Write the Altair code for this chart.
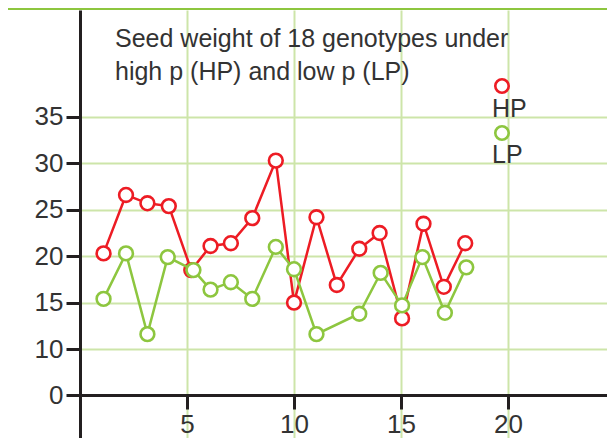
import altair as alt
import pandas as pd

# ---- data ----
hp_x = [1.1, 2.15, 3.15, 4.15, 5.2, 6.1, 7.05, 8.05, 9.15, 10.0, 11.05, 12.0, 13.05, 14.0, 15.05, 16.05, 17.0, 18.0]
hp_y = [20.3, 26.6, 25.7, 25.4, 18.5, 21.1, 21.4, 24.1, 30.3, 15.0, 24.2, 16.9, 20.8, 22.5, 13.3, 23.5, 16.7, 21.4]
lp_x = [1.1, 2.15, 3.15, 4.1, 5.3, 6.1, 7.05, 8.05, 9.15, 10.0, 11.05, 13.05, 14.05, 15.05, 16.0, 17.05, 18.05]
lp_y = [15.4, 20.3, 11.6, 19.9, 18.5, 16.4, 17.2, 15.4, 21.0, 18.6, 11.6, 13.8, 18.2, 14.7, 19.9, 13.9, 18.8]
series = ["HP", "LP"]
colors = ["#ed1c24", "#8dc63f"]
x_ticks = [5, 10, 15, 20]
y_ticks = [0, 10, 15, 20, 25, 30, 35]
title_lines = ["Seed weight of 18 genotypes under", "high p (HP) and low p (LP)"]

df = pd.concat([
    pd.DataFrame({"genotype": hp_x, "weight": hp_y, "series": "HP"}),
    pd.DataFrame({"genotype": lp_x, "weight": lp_y, "series": "LP"}),
], ignore_index=True)

W, H = 527, 428
FONT = "Liberation Sans"
TXT = "#333333"
GREEN = "#8dc63f"

xs = alt.Scale(domain=[0, W / 21.4], nice=False, zero=False)
# broken y axis: 0-10 compressed
ys = alt.Scale(domain=[-(H - 385) / 4.6, 0, 10, 46.53], range=[H, 385, 339, 0], nice=False, zero=False)
cs = alt.Scale(domain=series, range=colors)

xaxis = alt.Axis(values=x_ticks, title=None, grid=True, offset=-(H - 385), format="d",
                 tickSize=14, labelPadding=2)
yaxis = alt.Axis(values=y_ticks, title=None, grid=True, format="d")

X = alt.X("genotype:Q", scale=xs, axis=xaxis)
Y = alt.Y("weight:Q", scale=ys, axis=yaxis)
S = alt.Stroke("series:N", scale=cs, legend=None)

layers = []
# green top strip of the frame
layers.append(
    alt.Chart(alt.Data(values=[{"a": 1}])).mark_rect(color=GREEN).encode(
        x=alt.value(-72), x2=alt.value(W), y=alt.value(-2), y2=alt.value(0)
    )
)
for s in series:
    base = alt.Chart(df).transform_filter(alt.datum.series == s)
    layers.append(base.mark_line(strokeWidth=2.5).encode(x=X, y=Y, stroke=S))
    layers.append(
        base.mark_point(shape="circle", size=190, filled=True, fill="white", strokeWidth=2.6, opacity=1).encode(
            x=X, y=Y, stroke=S
        )
    )

# legend (symbol above label)
for i, s in enumerate(series):
    ld = alt.Data(values=[{"series": s}])
    layers.append(
        alt.Chart(ld).mark_point(shape="circle", size=180, filled=True, fill="white", strokeWidth=2.6, opacity=1).encode(
            x=alt.value(422), y=alt.value(76 + 47 * i), stroke=S
        )
    )
    layers.append(
        alt.Chart(ld).mark_text(align="left", baseline="alphabetic", fontSize=25, font=FONT, color=TXT).encode(
            x=alt.value(412), y=alt.value(107 + 46 * i), text="series:N"
        )
    )

chart = alt.layer(*layers).properties(
    width=W,
    height=H,
    title=alt.TitleParams(
        title_lines, anchor="start", orient="top", frame="group", baseline="alphabetic",
        offset=0, dx=35, dy=97, fontSize=25, fontWeight="normal", font=FONT, color=TXT, lineHeight=33,
    ),
    autosize=alt.AutoSizeParams(type="none"),
    padding={"left": 72, "top": 2, "right": 0, "bottom": 0},
    background="white",
).configure_view(stroke=None).configure_axis(
    domainColor="#231f20", domainWidth=3, tickColor="#231f20", tickWidth=3, tickSize=14,
    labelFont=FONT, labelFontSize=26, labelColor=TXT, labelPadding=3,
    gridColor="#cde5a9", gridWidth=2,
)

chart.save("out.html", embed_options={"renderer": "svg", "actions": False})
